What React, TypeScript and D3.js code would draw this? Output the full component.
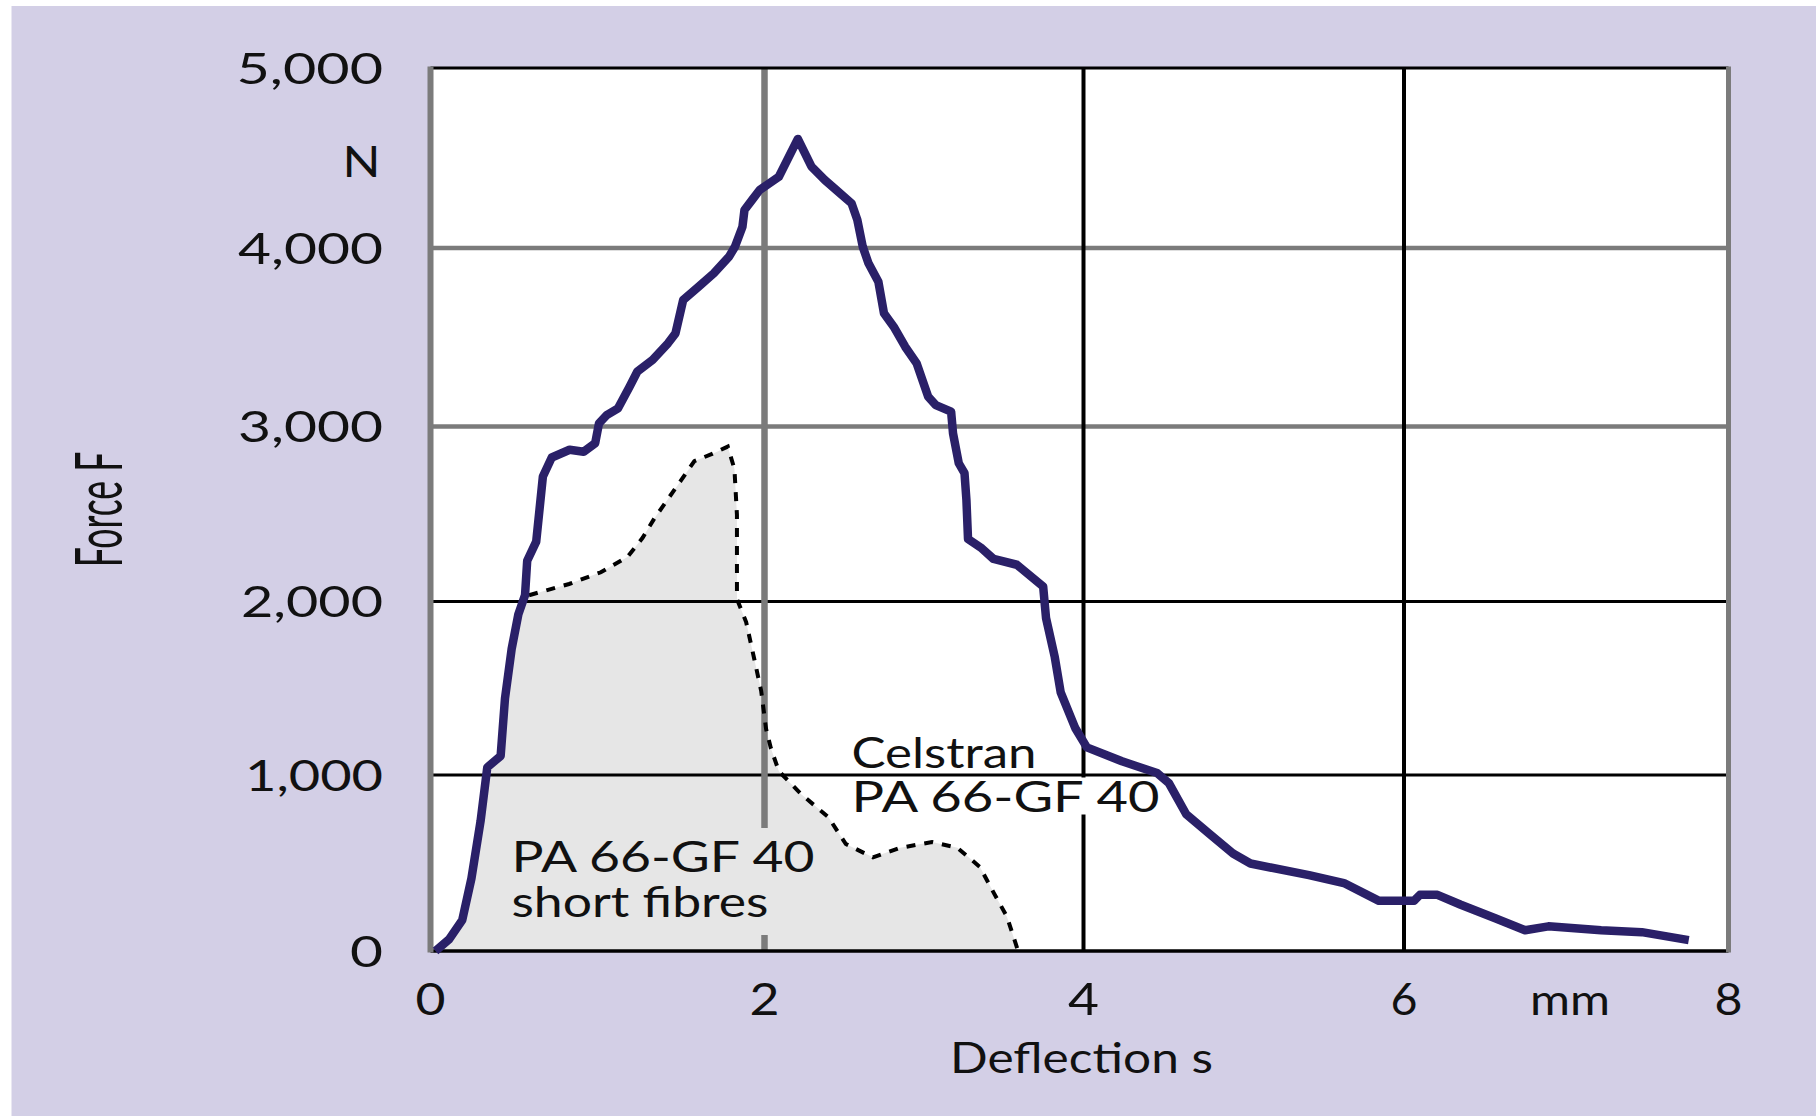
import React from 'react';
import * as d3 from 'd3';

// ---- data ----
const xTicks = [0, 2, 4, 6, 8];
const xTickLabels = ['0', '2', '4', '6', '8'];
const yTicks = [0, 1000, 2000, 3000, 4000, 5000];
const yTickLabels = ['0', '1,000', '2,000', '3,000', '4,000', '5,000'];

// Celstran PA 66-GF 40 (solid navy line): deflection (mm) and force (N)
const celstranDeflection = [
  0.03, 0.11, 0.19, 0.245, 0.3, 0.34, 0.42, 0.446, 0.486, 0.526, 0.566, 0.579, 0.633, 0.673, 0.726,
  0.833, 0.917, 0.986, 1.009, 1.055, 1.123, 1.192, 1.238, 1.33, 1.422, 1.467, 1.513, 1.605, 1.696,
  1.788, 1.823, 1.868, 1.88, 1.926, 1.971, 2.09, 2.209, 2.294, 2.378, 2.45, 2.546, 2.582, 2.616,
  2.652, 2.714, 2.749, 2.81, 2.882, 2.954, 3.026, 3.074, 3.17, 3.182, 3.218, 3.254, 3.266, 3.276,
  3.362, 3.436, 3.582, 3.747, 3.765, 3.82, 3.857, 3.948, 4.021, 4.24, 4.459, 4.532, 4.641, 4.787,
  4.933, 5.042, 5.407, 5.625, 5.844, 6.062, 6.098, 6.206, 6.35, 6.566, 6.746, 6.89, 7.215, 7.466, 7.755,
];
const celstranForce = [
  0, 65, 175, 412, 739, 1044, 1110, 1441, 1727, 1926, 2036, 2233, 2342, 2714, 2823,
  2867, 2856, 2904, 3018, 3064, 3102, 3223, 3307, 3373, 3466, 3522, 3709, 3783, 3858,
  3952, 4007, 4118, 4211, 4267, 4322, 4396, 4606, 4453, 4378, 4322, 4248, 4156, 4007,
  3914, 3811, 3634, 3559, 3447, 3354, 3167, 3120, 3083, 2961, 2790, 2733, 2580, 2357,
  2304, 2243, 2210, 2086, 1905, 1679, 1476, 1271, 1159, 1079, 1011, 955, 777, 665,
  554, 497, 431, 386, 285, 285, 319, 319, 263, 185, 118, 140, 118, 107, 62,
];

// PA 66-GF 40 short fibres (dashed line, from where it leaves the common rise)
const shortDeflection = [
  0.59, 0.83, 1.02, 1.18, 1.27, 1.34, 1.42, 1.5, 1.58, 1.69, 1.78, 1.82, 1.835, 1.835, 1.89, 1.94,
  1.98, 2.01, 2.04, 2.09, 2.23, 2.4, 2.51, 2.68, 2.85, 3.05, 3.21, 3.35, 3.44, 3.52, 3.59,
];
const shortForce = [
  2036, 2100, 2167, 2255, 2364, 2474, 2583, 2692, 2802, 2845, 2885, 2757, 2495, 2014, 1882, 1663,
  1485, 1265, 1154, 1022, 891, 761, 608, 532, 586, 619, 586, 478, 326, 195, 0,
];

const celstranLabel = ['Celstran', 'PA 66-GF 40'];
const shortLabel = ['PA 66-GF 40', 'short fibres'];

const FONT = 'Lato, "Noto Sans", sans-serif';

type P = [number, number];

export default function App() {
  const W = 1816;
  const H = 1116;
  const x = d3.scaleLinear().domain(xTicks).range([430.5, 764.5, 1083.5, 1404, 1728.5]);
  const y = d3.scaleLinear().domain(yTicks).range([951, 775, 601.5, 426.5, 248, 68]);
  const x0 = x(0), x1 = x(8), yTop = y(5000), yBot = y(0);

  const celstran: P[] = celstranDeflection.map((d, i) => [d, celstranForce[i]]);
  const shortF: P[] = shortDeflection.map((d, i) => [d, shortForce[i]]);
  const rise = celstran.filter((p) => p[0] <= shortDeflection[0]);
  const fillPts: P[] = [[rise[0][0], 0], ...rise, ...shortF];

  const line = d3.line<P>().x((p) => x(p[0])).y((p) => y(p[1]));
  const area = d3
    .area<P>()
    .x((p) => x(p[0]))
    .y0(y(0))
    .y1((p) => y(p[1]));

  const grayX = [2];
  const grayY = [3000, 4000];
  const GRAY = '#7b7b7b';

  const yLabelW = [33, 138, 142, 145, 145, 146.5];
  const xLabelW = [30, 30, 31, 27, 28];

  const txt = (s: string, xs: number, yb: number, w: number, fs = 42, extra: any = {}) => (
    <text
      key={s + xs + yb}
      x={xs}
      y={yb}
      fontSize={fs}
      fontFamily={FONT}
      fill="#111"
      textLength={w}
      lengthAdjust="spacingAndGlyphs"
      {...extra}
    >
      {s}
    </text>
  );

  return (
    <svg
      width={W}
      height={H}
      style={{ position: 'fixed', left: 0, top: 0, display: 'block', background: '#ffffff' }}
    >
      <rect x={11.5} y={6} width={W - 11.5} height={H - 6} fill="#d3cfe6" />
      <rect x={x0} y={yTop} width={x1 - x0} height={yBot - yTop} fill="#ffffff" />

      {/* short fibres filled area */}
      <path d={area(fillPts) || ''} fill="#e6e6e6" />

      {/* grid */}
      {yTicks.slice(1, -1).map((t) => (
        <line
          key={'gy' + t}
          x1={x0}
          x2={x1}
          y1={y(t)}
          y2={y(t)}
          stroke={grayY.includes(t) ? GRAY : '#000'}
          strokeWidth={grayY.includes(t) ? 4.5 : 3}
        />
      ))}
      {xTicks.slice(1, -1).map((t) => (
        <line
          key={'gx' + t}
          x1={x(t)}
          x2={x(t)}
          y1={yTop}
          y2={yBot}
          stroke={grayX.includes(t) ? GRAY : '#000'}
          strokeWidth={grayX.includes(t) ? 6.5 : 4}
        />
      ))}
      {/* frame */}
      <line x1={x0} x2={x1} y1={yTop} y2={yTop} stroke="#000" strokeWidth={2.8} />
      <line x1={x0} x2={x1} y1={yBot} y2={yBot} stroke="#000" strokeWidth={3.5} />
      <line x1={x0} x2={x0} y1={yTop - 1.5} y2={yBot + 1.5} stroke={GRAY} strokeWidth={6} />
      <line x1={x1} x2={x1} y1={yTop - 1.5} y2={yBot + 1.5} stroke={GRAY} strokeWidth={5} />

      {/* label backgrounds */}
      <rect x={848} y={777.5} width={315} height={37} fill="#ffffff" />
      <rect x={505} y={828} width={315} height={107} fill="#e6e6e6" />

      {/* labels inside plot */}
      {txt(celstranLabel[0], 851.5, 768.3, 185)}
      {txt(celstranLabel[1], 851.5, 812.3, 308)}
      {txt(shortLabel[0], 511.5, 871.7, 303)}
      {txt(shortLabel[1], 511.5, 916.7, 257)}

      {/* dashed short fibre curve */}
      <path
        d={line(shortF) || ''}
        fill="none"
        stroke="#000"
        strokeWidth={4}
        strokeDasharray="9 9"
      />

      {/* Celstran curve */}
      <path
        d={line(celstran) || ''}
        fill="none"
        stroke="#2a2068"
        strokeWidth={8.5}
        strokeLinejoin="round"
        strokeLinecap="butt"
      />

      {/* y tick labels */}
      {yTicks.map((t, i) => txt(yTickLabels[i], 383 - yLabelW[i], y(t) + 15.5, yLabelW[i], 42))}
      {txt('N', 342.5, 176.7, 38, 42)}

      {/* x tick labels */}
      {xTicks.map((t, i) => txt(xTickLabels[i], x(t) - xLabelW[i] / 2, 1015, xLabelW[i], 44))}
      {txt('mm', 1530, 1015, 80, 42)}

      {/* axis titles */}
      {txt('Deflection s', 950, 1073.3, 263, 42)}
      <g transform="translate(121.5, 567.3) rotate(-90)">
        {txt('Force F', 0, 0, 115.6, 66)}
      </g>
    </svg>
  );
}
